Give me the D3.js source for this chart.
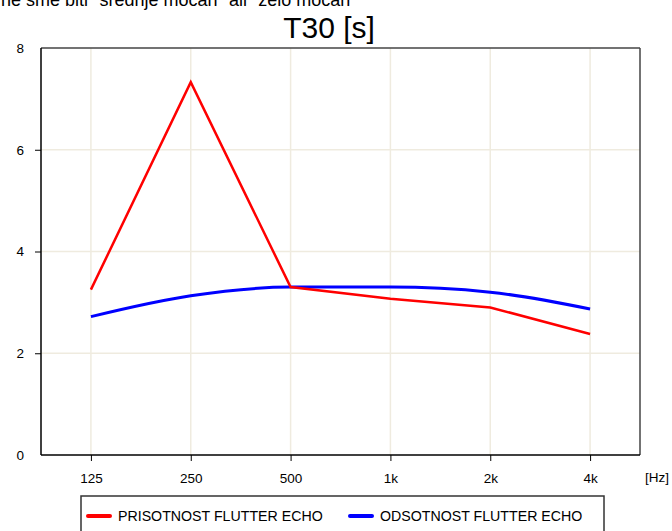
<!DOCTYPE html>
<html>
<head>
<meta charset="utf-8">
<title>T30</title>
<script src="https://cdnjs.cloudflare.com/ajax/libs/d3/7.8.5/d3.min.js"></script>
<style>
  body { margin: 0; background: #fff; overflow: hidden; }
  text { font-family: "Liberation Sans", Arial, sans-serif; fill: #000; }
</style>
</head>
<body>
<div id="chart"></div>
<script>
// frequency bands (Hz) and their labels
var freqs = [125, 250, 500, 1000, 2000, 4000];
var freqLabels = ["125", "250", "500", "1k", "2k", "4k"];
// T30 values in seconds
var prisotnost = [3.25, 7.33, 3.3, 3.07, 2.9, 2.38];
var odsotnost = [2.72, 3.13, 3.3, 3.3, 3.2, 2.87];
var yTicks = [0, 2, 4, 6, 8];
var seriesNames = ["PRISOTNOST FLUTTER ECHO", "ODSOTNOST FLUTTER ECHO"];

var width = 672, height = 531;
var pLeft = 41, pRight = 640, pTop = 48, pBottom = 455;

var svg = d3.select("#chart").append("svg")
  .attr("width", width)
  .attr("height", height)
  .style("display", "block");

var x = d3.scaleLog()
  .domain([125 / Math.SQRT2, 4000 * Math.SQRT2])
  .range([pLeft, pRight]);
var y = d3.scaleLinear().domain([0, 8]).range([pBottom, pTop]);

// cut off text at the very top
svg.append("text")
  .attr("x", 1).attr("y", 6)
  .style("font-size", "18px")
  .text('ne sme biti "srednje mocan" ali "zelo mocan"');

svg.append("text")
  .attr("x", 329).attr("y", 38)
  .attr("text-anchor", "middle")
  .style("font-size", "30px")
  .text("T30 [s]");

// grid
svg.selectAll(".vgrid").data(freqs).enter().append("line")
  .attr("x1", function(d){ return x(d); })
  .attr("x2", function(d){ return x(d); })
  .attr("y1", pTop).attr("y2", pBottom)
  .attr("stroke", "#efebdf").attr("stroke-width", 1.5);
svg.selectAll(".hgrid").data(yTicks.slice(1, 4)).enter().append("line")
  .attr("x1", pLeft).attr("x2", pRight)
  .attr("y1", function(d){ return y(d); })
  .attr("y2", function(d){ return y(d); })
  .attr("stroke", "#efebdf").attr("stroke-width", 1.5);

// frame
svg.append("line").attr("x1", pLeft).attr("x2", pRight).attr("y1", pTop).attr("y2", pTop)
  .attr("stroke", "#444").attr("stroke-width", 1.5);
svg.append("line").attr("x1", pRight).attr("x2", pRight).attr("y1", pTop).attr("y2", pBottom)
  .attr("stroke", "#444").attr("stroke-width", 1.5);

// axes
var yAxis = d3.axisLeft(y).tickValues(yTicks).tickSize(6).tickPadding(11)
  .tickFormat(d3.format("d"));
var gy = svg.append("g").attr("transform", "translate(" + pLeft + ",0)").call(yAxis);
var xAxis = d3.axisBottom(x).tickValues(freqs).tickSize(6).tickPadding(12)
  .tickFormat(function(d, i){ return freqLabels[i]; });
var gx = svg.append("g").attr("transform", "translate(0," + pBottom + ")").call(xAxis);
[gx, gy].forEach(function(g){
  g.select(".domain").attr("d", null);
  g.selectAll(".tick line").attr("stroke", "#000");
  g.selectAll("text").style("font-size", "13.5px")
    .style("font-family", "'Liberation Sans', Arial, sans-serif");
});
gy.selectAll(".tick").filter(function(d){ return d === 0 || d === 8; }).select("line").remove();
svg.append("line").attr("x1", pLeft).attr("x2", pLeft).attr("y1", pTop).attr("y2", pBottom)
  .attr("stroke", "#000").attr("stroke-width", 1.5);
svg.append("line").attr("x1", pLeft).attr("x2", pRight).attr("y1", pBottom).attr("y2", pBottom)
  .attr("stroke", "#000").attr("stroke-width", 1.5);
svg.append("text")
  .attr("x", 645).attr("y", 482)
  .style("font-size", "13.5px")
  .text("[Hz]");

// lines
var lineLin = d3.line()
  .x(function(d, i){ return x(freqs[i]); })
  .y(function(d){ return y(d); });
var lineSmooth = d3.line()
  .x(function(d, i){ return x(freqs[i]); })
  .y(function(d){ return y(d); })
  .curve(d3.curveMonotoneX);

svg.append("path").datum(odsotnost)
  .attr("d", lineSmooth)
  .attr("fill", "none").attr("stroke", "#0000ff").attr("stroke-width", 3);
svg.append("path").datum(prisotnost)
  .attr("d", lineLin)
  .attr("fill", "none").attr("stroke", "#ff0000").attr("stroke-width", 2.5);

// legend
svg.append("rect")
  .attr("x", 81).attr("y", 496).attr("width", 523).attr("height", 40)
  .attr("fill", "#fff").attr("stroke", "#333").attr("stroke-width", 1.5);
var legendColors = ["#ff0000", "#0000ff"];
var legendX = [88, 350];
var lg = svg.selectAll(".leg").data(seriesNames).enter().append("g")
  .attr("transform", function(d, i){ return "translate(" + legendX[i] + ",516)"; });
lg.append("line").attr("x1", 0).attr("x2", 22).attr("y1", 0).attr("y2", 0)
  .attr("stroke", function(d, i){ return legendColors[i]; })
  .attr("stroke-width", 4).attr("stroke-linecap", "round");
lg.append("text").attr("x", 30).attr("y", 5)
  .style("font-size", "14.2px")
  .text(function(d){ return d; });
</script>
</body>
</html>
